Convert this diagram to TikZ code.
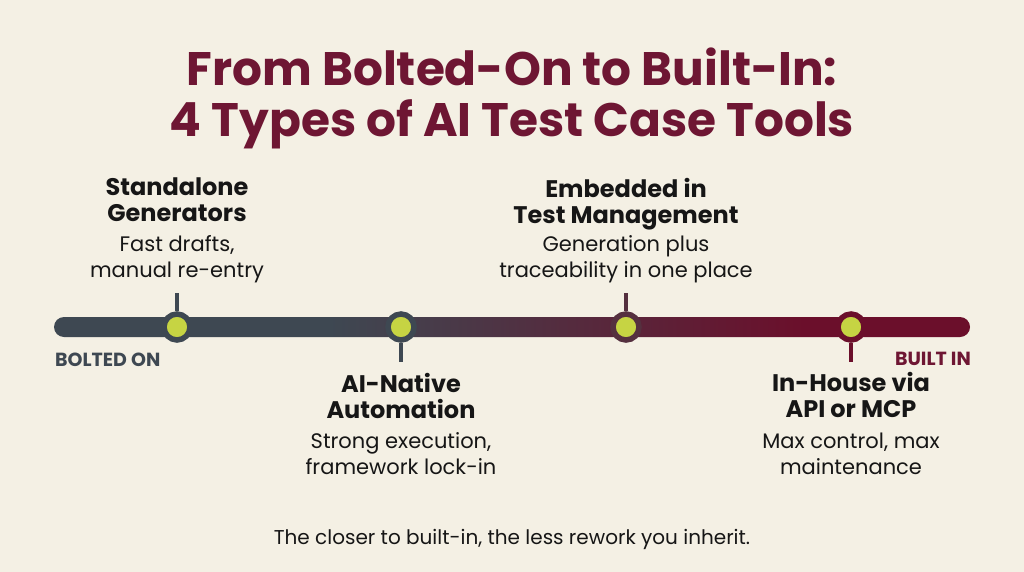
\documentclass[tikz,border=0pt]{standalone}
\usepackage{fontspec}
\setmainfont{Poppins}[BoldFont={Poppins Bold}]
\definecolor{bg}{HTML}{F4F0E4}
\definecolor{slate}{HTML}{3E4852}
\definecolor{barmaroon}{HTML}{6B0F2B}
\definecolor{midmix}{HTML}{55303F}
\definecolor{titlecol}{HTML}{6E1633}
\definecolor{dot}{HTML}{C6D443}
\definecolor{ink}{HTML}{161616}
\pgfdeclarehorizontalshading{barshade}{100bp}{color(0bp)=(slate); color(40bp)=(slate); color(66bp)=(barmaroon); color(100bp)=(barmaroon)}
\begin{document}
\begin{tikzpicture}[x=1pt,y=-1pt,
  titletext/.style={anchor=base, text=titlecol, font=\fontsize{47}{52}\selectfont\bfseries, inner sep=0pt},
  headtext/.style={anchor=base, text=ink, align=center, font=\fontsize{24}{26}\selectfont\bfseries, inner sep=0pt},
  desctext/.style={anchor=base, text=ink, align=center, font=\fontsize{21}{26}\selectfont, inner sep=0pt},
  endtext/.style={text=#1, font=\fontsize{19}{22}\selectfont\bfseries, inner sep=0pt},
  milestone/.style={circle, fill=dot, draw=#1, line width=5.5pt, minimum size=26pt, inner sep=0pt},
  tick/.style={draw=#1, line width=3.5pt}
]
\useasboundingbox (0,0) rectangle (1024,572);
\fill[bg] (0,0) rectangle (1024,572);

% title
\node[titletext] (t1) at (512,86) {From Bolted-On to Built-In:};
\node[titletext] (t2) at (512,137) {4 Types of AI Test Case Tools};

% bar
\shade[shading=barshade, rounded corners=10pt] (54,317) rectangle (970,337);

% milestones
\node[milestone=slate] (m1) at (177,327) {};
\node[milestone=slate] (m2) at (401,327) {};
\node[milestone=midmix] (m3) at (626,327) {};
\node[milestone=barmaroon] (m4) at (851,327) {};
\coordinate (k1) at (177,293);
\coordinate (k2) at (401,362);
\coordinate (k3) at (626,293);
\coordinate (k4) at (851,362);
\draw[tick=slate] (m1.north) -- (k1);
\draw[tick=slate] (m2.south) -- (k2);
\draw[tick=midmix] (m3.north) -- (k3);
\draw[tick=barmaroon] (m4.south) -- (k4);

% end labels
\node[endtext=slate, anchor=base west] (bolted) at (55,366) {BOLTED ON};
\node[endtext=titlecol, anchor=base east] (built) at (971,365) {BUILT IN};

% labels (base anchor = baseline of last line)
\node[headtext] (h1) at (177,221) {Standalone\\Generators};
\node[desctext] (d1) at (177,277) {Fast drafts,\\manual re-entry};

\node[headtext] (h3) at (626,223) {Embedded in\\Test Management};
\node[desctext] (d3) at (626,277) {Generation plus\\traceability in one place};

\node[headtext] (h2) at (401,418) {AI-Native\\Automation};
\node[desctext] (d2) at (401,474) {Strong execution,\\framework lock-in};

\node[headtext] (h4) at (851,417) {In-House via\\API or MCP};
\node[desctext] (d4) at (851,474) {Max control, max\\maintenance};

% footer
\node[anchor=base, text=ink, font=\fontsize{20}{24}\selectfont, inner sep=0pt] (foot) at (512,544) {The closer to built-in, the less rework you inherit.};
\end{tikzpicture}
\end{document}
